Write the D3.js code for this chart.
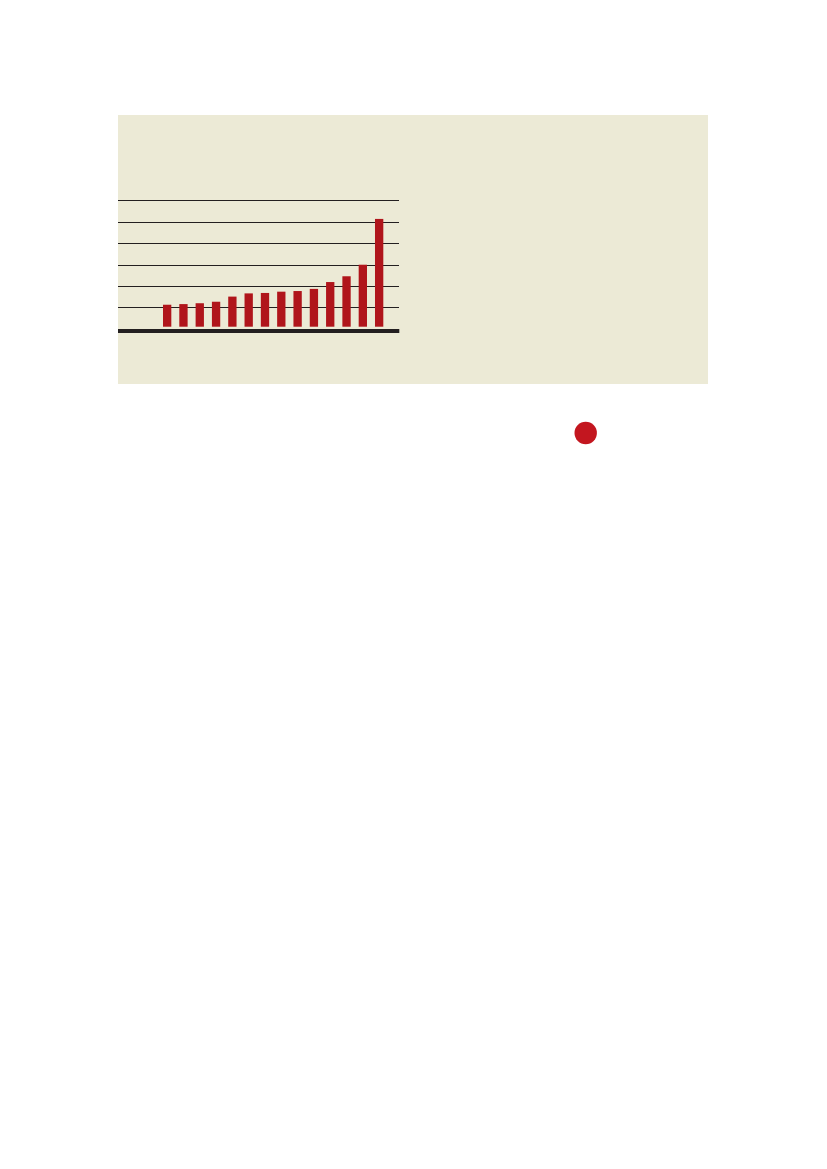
<!DOCTYPE html>
<html>
<head>
<meta charset="utf-8">
<script src="https://cdn.jsdelivr.net/npm/d3@7"></script>
<style>
  body { margin: 0; background: #fff; }
  svg { display: block; }
</style>
</head>
<body>
<svg id="chart"></svg>
<script>
// categories (no labels shown in the picture)
var categories = ["c1","c2","c3","c4","c5","c6","c7","c8","c9","c10","c11","c12","c13","c14"];
// bar values, in gridline units
var values = [1.12, 1.15, 1.19, 1.26, 1.50, 1.65, 1.67, 1.73, 1.76, 1.86, 2.18, 2.45, 2.99, 5.13];
// horizontal gridlines
var gridTicks = [1, 2, 3, 4, 5, 6];

var W = 827, H = 1169;
var svg = d3.select("#chart").attr("width", W).attr("height", H);

// beige panel
svg.append("rect")
    .attr("x", 118).attr("y", 115)
    .attr("width", 590).attr("height", 269)
    .attr("fill", "#ecead6");

// scales
var x = d3.scaleBand()
    .domain(categories)
    .range([159, 387.3])
    .paddingInner(0.49)
    .paddingOuter(0.245);

var y = d3.scaleLinear()
    .domain([0, 6])
    .range([328.7, 200.3]);

var left = 118, right = 399.3;

// gridlines
svg.append("g")
    .attr("transform", "translate(" + left + ",0)")
    .call(d3.axisLeft(y)
        .tickValues(gridTicks)
        .tickSize(-(right - left))
        .tickFormat(""))
    .call(function(g) {
        g.select(".domain").remove();
        g.selectAll(".tick line")
            .attr("stroke", "#231f20")
            .attr("stroke-width", 1)
            .attr("shape-rendering", "crispEdges");
    });

// bars
svg.append("g")
    .selectAll("rect")
    .data(values)
    .enter().append("rect")
    .attr("x", function(d, i) { return x(categories[i]); })
    .attr("y", function(d) { return y(d); })
    .attr("width", x.bandwidth())
    .attr("height", function(d) { return y(0) - 2 - y(d); })
    .attr("fill", "#b0151b");

// baseline
svg.append("line")
    .attr("x1", left).attr("x2", right)
    .attr("y1", y(0) + 2.3).attr("y2", y(0) + 2.3)
    .attr("stroke", "#231f20")
    .attr("stroke-width", 4);

// red dot
svg.append("circle")
    .attr("cx", 585.7).attr("cy", 433)
    .attr("r", 11.2)
    .attr("fill", "#c3161f");
</script>
</body>
</html>
